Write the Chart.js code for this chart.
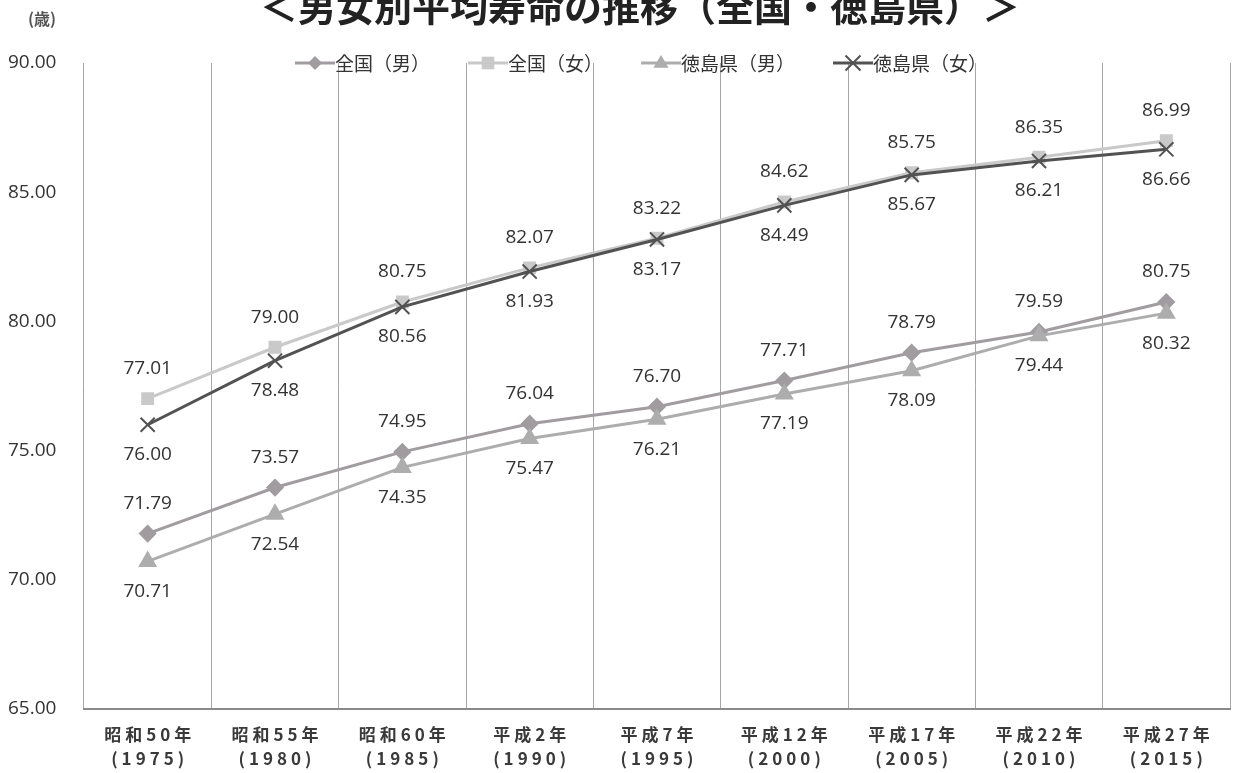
<!DOCTYPE html>
<html lang="ja">
<head>
<meta charset="utf-8">
<script src="https://cdn.jsdelivr.net/npm/chart.js@4.4.1/dist/chart.umd.min.js"></script>
<style>
  html, body { margin: 0; padding: 0; background: #ffffff; }
  #wrap { width: 1233px; height: 773px; position: relative; }
  canvas { display: block; }
</style>
</head>
<body>
<div id="wrap"><canvas id="lifeChart" width="1233" height="773"></canvas></div>
<script>
// 男女別平均寿命の推移（全国・徳島県）
const eraLabels  = ['昭和50年', '昭和55年', '昭和60年', '平成2年', '平成7年', '平成12年', '平成17年', '平成22年', '平成27年'];
const yearLabels = ['(1975)', '(1980)', '(1985)', '(1990)', '(1995)', '(2000)', '(2005)', '(2010)', '(2015)'];

const nationalMale     = [71.79, 73.57, 74.95, 76.04, 76.70, 77.71, 78.79, 79.59, 80.75];
const nationalFemale   = [77.01, 79.00, 80.75, 82.07, 83.22, 84.62, 85.75, 86.35, 86.99];
const tokushimaMale    = [70.71, 72.54, 74.35, 75.47, 76.21, 77.19, 78.09, 79.44, 80.32];
const tokushimaFemale  = [76.00, 78.48, 80.56, 81.93, 83.17, 84.49, 85.67, 86.21, 86.66];

const seriesNames = ['全国（男）', '全国（女）', '徳島県（男）', '徳島県（女）'];
const yTicks = [65, 70, 75, 80, 85, 90];

const chartTitle = '＜男女別平均寿命の推移（全国・徳島県）＞';
const unitLabel = '(歳)';

const NUM_FAMILY = '"Open Sans", "Liberation Sans", sans-serif';
const CJK = '"Noto Sans CJK JP", "Noto Sans", sans-serif';

// small marker painter shared by the legend
function paintMarker(ctx, style, x, y, r, color, lw) {
  ctx.save();
  ctx.fillStyle = color;
  ctx.strokeStyle = color;
  ctx.lineWidth = lw;
  ctx.beginPath();
  if (style === 'rectRot') {
    ctx.moveTo(x, y - r); ctx.lineTo(x + r, y); ctx.lineTo(x, y + r); ctx.lineTo(x - r, y); ctx.closePath();
    ctx.fill();
  } else if (style === 'rect') {
    const s = r * 0.9;
    ctx.rect(x - s, y - s, 2 * s, 2 * s); ctx.fill();
  } else if (style === 'triangle') {
    ctx.moveTo(x, y - r); ctx.lineTo(x + r * 0.95, y + r * 0.6); ctx.lineTo(x - r * 0.95, y + r * 0.6); ctx.closePath();
    ctx.fill();
  } else if (style === 'crossRot') {
    const s = r * 0.75;
    ctx.moveTo(x - s, y - s); ctx.lineTo(x + s, y + s);
    ctx.moveTo(x + s, y - s); ctx.lineTo(x - s, y + s);
    ctx.stroke();
  }
  ctx.restore();
}

// title (partly above the top edge), unit label and legend
const headerPlugin = {
  id: 'header',
  afterDraw(chart) {
    const ctx = chart.ctx;
    const area = chart.chartArea;
    ctx.save();
    ctx.fillStyle = '#222';
    ctx.textAlign = 'center';
    ctx.textBaseline = 'alphabetic';
    ctx.font = 'bold 38px ' + CJK;
    ctx.fillText(chartTitle, 640, 21);

    ctx.font = 'bold 16px ' + CJK;
    ctx.fillStyle = '#555';
    ctx.textBaseline = 'middle';
    ctx.fillText(unitLabel, 42, 19);

    // legend: line + marker, then name
    ctx.font = '19px ' + CJK;
    const lineLen = 40, gapAfterLine = 0, itemGap = 38;
    const widths = chart.data.datasets.map(d => ctx.measureText(d.label).width);
    let total = 0;
    widths.forEach((w, i) => { total += lineLen + gapAfterLine + w + (i < widths.length - 1 ? itemGap : 0); });
    let x = 641 - total / 2;
    const y = area.top;
    chart.data.datasets.forEach((d, i) => {
      ctx.save();
      ctx.strokeStyle = d.borderColor;
      ctx.lineWidth = 3;
      ctx.beginPath();
      ctx.moveTo(x, y); ctx.lineTo(x + lineLen, y);
      ctx.stroke();
      ctx.restore();
      paintMarker(ctx, d.pointStyle, x + lineLen / 2, y, d.pointRadius, d.pointBorderColor || d.borderColor, 2);
      ctx.fillStyle = '#333';
      ctx.textAlign = 'left';
      ctx.fillText(d.label, x + lineLen + gapAfterLine, y + 1);
      x += lineLen + gapAfterLine + widths[i] + itemGap;
    });
    ctx.restore();
  }
};

// value labels above (national) or below (Tokushima) each point
const valueLabelPlugin = {
  id: 'valueLabels',
  afterDatasetsDraw(chart, args, opts) {
    const ctx = chart.ctx;
    ctx.save();
    ctx.font = '19px ' + NUM_FAMILY;
    ctx.fillStyle = '#333';
    ctx.textAlign = 'center';
    ctx.textBaseline = 'middle';
    chart.data.datasets.forEach((ds, di) => {
      const meta = chart.getDatasetMeta(di);
      const above = ds.labelSide === 'above';
      meta.data.forEach((pt, i) => {
        const y = above ? pt.y - opts.gap : pt.y + opts.gap;
        ctx.fillText(ds.data[i].toFixed(2), pt.x, y);
      });
    });
    ctx.restore();
  }
};

// two-line category labels under the axis
const categoryLabelPlugin = {
  id: 'categoryLabels',
  afterDraw(chart) {
    const ctx = chart.ctx;
    const xs = chart.scales.x;
    const spacing = 4;
    ctx.save();
    ctx.fillStyle = '#3a3a3a';
    ctx.textAlign = 'center';
    ctx.textBaseline = 'middle';
    ctx.font = 'bold 17px ' + CJK;
    if ('letterSpacing' in ctx) ctx.letterSpacing = spacing + 'px';
    eraLabels.forEach((lab, i) => {
      const x = xs.getPixelForValue(i) + spacing / 2;
      ctx.fillText(lab, x, xs.top + 26);
      ctx.fillText(yearLabels[i], x, xs.top + 50);
    });
    ctx.restore();
  }
};

const datasets = [
  {
    label: seriesNames[0], data: nationalMale, labelSide: 'above',
    borderColor: '#a09ca0', backgroundColor: '#a09ca0', pointBackgroundColor: '#a09ca0',
    pointStyle: 'rectRot', pointRadius: 7, borderWidth: 3, order: 2
  },
  {
    label: seriesNames[1], data: nationalFemale, labelSide: 'above',
    borderColor: '#c9c9c9', backgroundColor: '#c9c9c9', pointBackgroundColor: '#c9c9c9',
    pointStyle: 'rect', pointRadius: 7, borderWidth: 3, order: 3
  },
  {
    label: seriesNames[2], data: tokushimaMale, labelSide: 'below',
    borderColor: '#adadad', backgroundColor: '#adadad', pointBackgroundColor: '#adadad',
    pointStyle: 'triangle', pointRadius: 8, borderWidth: 3, order: 1
  },
  {
    label: seriesNames[3], data: tokushimaFemale, labelSide: 'below',
    borderColor: '#525252', backgroundColor: '#525252', pointBackgroundColor: '#525252',
    pointBorderColor: '#525252', pointBorderWidth: 2,
    pointStyle: 'crossRot', pointRadius: 10, borderWidth: 3, order: 0
  }
];

new Chart(document.getElementById('lifeChart'), {
  type: 'line',
  data: { labels: eraLabels, datasets },
  options: {
    responsive: false,
    devicePixelRatio: 1,
    animation: false,
    layout: { autoPadding: false, padding: { left: 8, top: 63, right: 3, bottom: 0 } },
    elements: { line: { tension: 0 } },
    plugins: {
      legend: { display: false },
      tooltip: { enabled: false },
      title: { display: false },
      valueLabels: { gap: 30 }
    },
    scales: {
      x: {
        type: 'category',
        offset: true,
        grid: { display: true, offset: true, color: '#a6a6a6', lineWidth: 1, drawTicks: false },
        border: { display: true, color: '#8a8a8a', width: 2 },
        ticks: { display: false },
        afterFit: s => { s.height = 64; }
      },
      y: {
        min: 65, max: 90,
        afterBuildTicks: s => { s.ticks = yTicks.map(v => ({ value: v })); },
        grid: { display: false },
        border: { display: false },
        ticks: {
          crossAlign: 'far',
          color: '#333',
          font: { family: NUM_FAMILY, size: 19 },
          callback: v => Number(v).toFixed(2)
        },
        afterFit: s => { s.width = 76; }
      }
    }
  },
  plugins: [valueLabelPlugin, categoryLabelPlugin, headerPlugin]
});
</script>
</body>
</html>
